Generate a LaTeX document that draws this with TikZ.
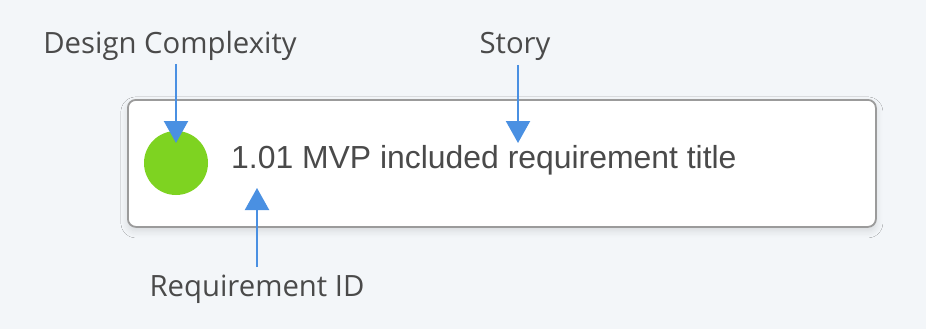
\documentclass[tikz,border=0pt]{standalone}
\usepackage{fontspec}
\setmainfont{Open Sans}
\newfontfamily\boxfont{Liberation Sans}
\usetikzlibrary{arrows.meta,shadows.blur}
\definecolor{bg}{HTML}{F3F6F9}
\definecolor{arrowblue}{HTML}{4A90E2}
\definecolor{dotgreen}{HTML}{7ED321}
\definecolor{txt}{HTML}{4A4A4A}
\definecolor{border}{HTML}{9B9B9B}
\tikzset{
  pointer/.style={draw=arrowblue, line width=2.2pt, -{Triangle[length=22pt,width=24pt]}},
  label/.style={font=\fontsize{29.3}{34}\selectfont, text=txt, inner sep=0pt},
  card/.style={draw=border, line width=1.8pt, fill=white, rounded corners=8pt, blur shadow={shadow blur steps=10, shadow blur radius=7pt, shadow xshift=0pt, shadow yshift=-4pt, shadow opacity=12}},
}
\begin{document}
\begin{tikzpicture}[x=1pt,y=-1pt]
\fill[bg] (0,0) rectangle (926,329);
\useasboundingbox (0,0) rectangle (926,329);
\node[card, minimum width=748pt, minimum height=127pt, anchor=north west] (card) at (127,99) {};
\node[circle, fill=dotgreen, minimum size=64pt, inner sep=0pt] (dot) at (176,163) {};
\node[anchor=west, inner sep=0pt, text=txt, font=\boxfont\fontsize{31.9}{36}\selectfont] (title) at (231,160) {1.01 MVP included requirement title};
\node[label] (dc) at (170,46) {Design Complexity};
\node[label] (story) at (515,46) {Story};
\node[label] (rid) at (257,289) {Requirement ID};
\coordinate (dctip) at (176,143);
\coordinate (storytip) at (518,143);
\coordinate (ridtip) at (257,188);
\draw[pointer] (176,64) -- (dctip);
\draw[pointer] (518,65) -- (storytip);
\draw[pointer] (257,267) -- (ridtip);
\end{tikzpicture}
\end{document}
